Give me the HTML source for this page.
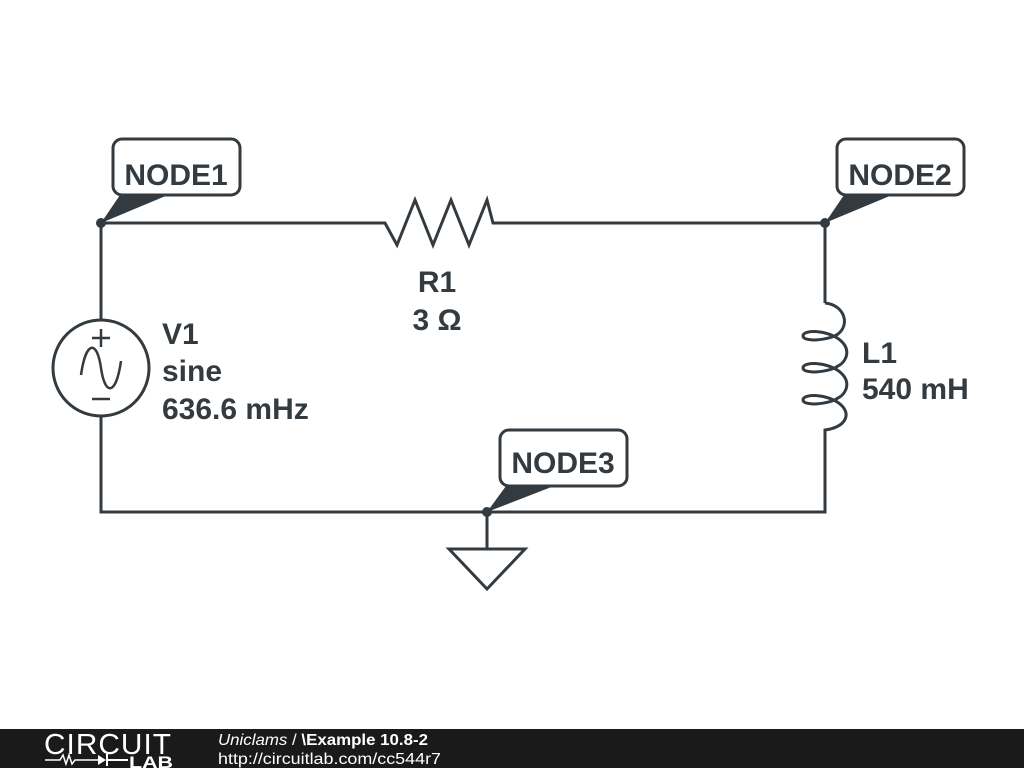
<!DOCTYPE html>
<html><head><style>
body{margin:0;width:1024px;height:768px;background:#fff;overflow:hidden;font-family:"Liberation Sans","DejaVu Sans",sans-serif}
</style></head><body>
<svg width="1024" height="768" viewBox="0 0 1024 768" xmlns="http://www.w3.org/2000/svg">
<g stroke="#333b40" stroke-width="3" fill="none" stroke-linejoin="miter">
<path d="M101,223 H385 L397,245 L415,200 L433,245 L451,200 L469,245 L487,200 L493,223 H825 V303"/>
<path d="M825,303 C845,305 850,325 838,334 C828,341 803,342 803,336 C803,329 828,330 840,340 C852,350 846,362 838,366 C828,373 803,374 803,368 C803,361 828,362 840,372 C852,382 846,394 838,398 C828,405 803,406 803,400 C803,393 828,394 840,404 C852,414 846,427 825,430 V512 H101 V416"/>
<path d="M101,320 V223"/>
<circle cx="101" cy="368" r="48"/>
<path d="M81,375 C86,340 97,340 101,368 C105,396 116,396 121,361" stroke-width="2.5"/>
<path d="M92,338 H110 M101,329 V347 M92,399 H110" stroke-width="2.5"/>
<path d="M487,512 V549"/>
<path d="M449,549 H525 L487,589 Z"/>
<rect x="113" y="139" width="127" height="56" rx="9"/>
<rect x="837" y="139" width="127" height="56" rx="9"/>
<rect x="500" y="430" width="127" height="56" rx="9"/>
</g>
<g fill="#333b40">
<circle cx="101" cy="223" r="5"/><circle cx="825" cy="223" r="5"/><circle cx="487" cy="512" r="5"/>
<polygon points="101,223 120,195 168,195"/>
<polygon points="825,223 844,195 892,195"/>
<polygon points="487,512 506,486 554,486"/>
</g>
<g fill="#333b40" font-weight="bold" font-size="30">
<text x="176" y="185" text-anchor="middle">NODE1</text>
<text x="900" y="185" text-anchor="middle">NODE2</text>
<text x="563" y="473" text-anchor="middle">NODE3</text>
<text x="437" y="292" text-anchor="middle">R1</text>
<text x="437" y="330" text-anchor="middle">3 Ω</text>
<text x="162" y="344">V1</text>
<text x="162" y="381">sine</text>
<text x="162" y="419">636.6 mHz</text>
<text x="862" y="363">L1</text>
<text x="862" y="399">540 mH</text>
</g>
<rect x="0" y="729" width="1024" height="39" fill="#1a1a1a"/>
<text x="44" y="754" fill="#fff" font-size="29" letter-spacing="1" textLength="128" lengthAdjust="spacingAndGlyphs">CIRCUIT</text>
<path d="M45,760 H60 L63,755 L66,764 L69,755 L72,764 L75,760 H98" stroke="#fff" stroke-width="1.5" fill="none"/>
<polygon points="98,755 98,765 106,760" fill="#fff"/><path d="M107,754 V766 M107,760 H128" stroke="#fff" stroke-width="2"/>
<text x="129" y="768" fill="#fff" font-size="17" font-weight="bold" textLength="44" lengthAdjust="spacingAndGlyphs">LAB</text>
<text x="218" y="745" fill="#fff" font-size="16" textLength="210" lengthAdjust="spacingAndGlyphs"><tspan font-style="italic">Uniclams</tspan> / <tspan font-weight="bold">\Example 10.8-2</tspan></text>
<text x="218" y="764" fill="#fff" font-size="16" textLength="223" lengthAdjust="spacingAndGlyphs">http://circuitlab.com/cc544r7</text>
</svg>
</body></html>
